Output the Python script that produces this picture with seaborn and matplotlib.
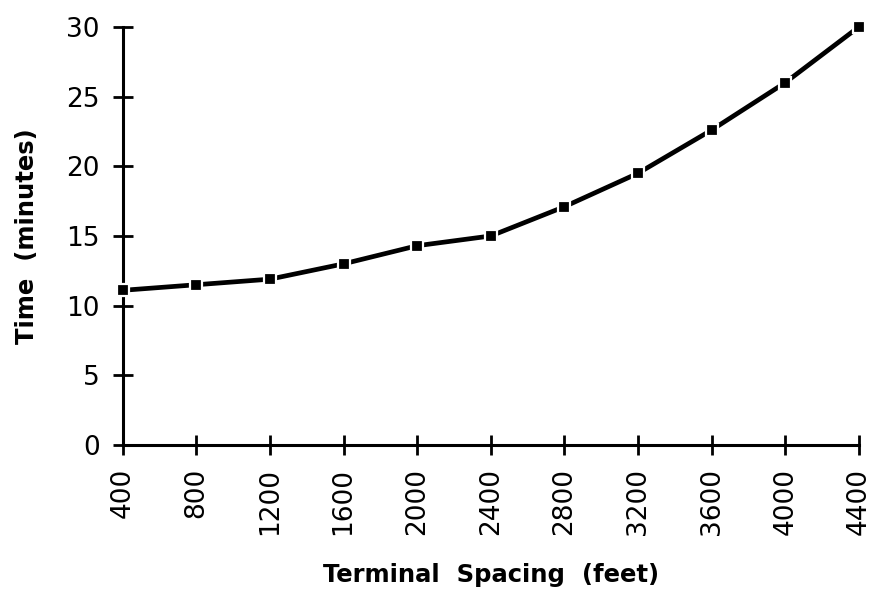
import matplotlib
matplotlib.use("Agg")
import matplotlib.pyplot as plt
import pandas as pd
import seaborn as sns

SPACING_FT = [400, 800, 1200, 1600, 2000, 2400, 2800, 3200, 3600, 4000, 4400]
TIME_MIN = [11.1, 11.5, 11.9, 13.0, 14.3, 15.0, 17.1, 19.5, 22.6, 26.0, 30.0]
Y_TICKS = [0, 5, 10, 15, 20, 25, 30]


def main() -> None:
    sns.set_theme(style="white", rc={"axes.edgecolor": "black", "text.color": "black",
                                     "axes.labelcolor": "black"})
    plt.rcParams["font.family"] = ["DejaVu Sans"]

    df = pd.DataFrame({"spacing": SPACING_FT, "time": TIME_MIN})

    fig = plt.figure(figsize=(8.71, 5.93), dpi=100)
    ax = fig.add_axes([0.141, 0.2496, 0.845, 0.705])

    sns.lineplot(
        data=df,
        x="spacing",
        y="time",
        color="black",
        linewidth=3.4,
        marker="s",
        markersize=9,
        markeredgecolor="white",
        markeredgewidth=1.6,
        ax=ax,
        clip_on=False,
        zorder=5,
    )

    ax.set_xlim(400, 4400)
    ax.set_ylim(0, 30)
    ax.set_xticks(SPACING_FT)
    ax.set_xticklabels([str(v) for v in SPACING_FT], rotation=90)
    ax.set_yticks(Y_TICKS)
    ax.set_yticklabels([str(v) for v in Y_TICKS])

    for side in ("top", "right"):
        ax.spines[side].set_visible(False)
    for side in ("left", "bottom"):
        ax.spines[side].set_linewidth(2.2)
        ax.spines[side].set_color("black")

    ax.tick_params(axis="both", direction="inout", length=15, width=2, color="black",
                   labelsize=19, labelcolor="black", bottom=True, left=True)
    ax.tick_params(axis="x", pad=9)
    ax.tick_params(axis="y", pad=9)

    label_font = {"family": ["DejaVu Sans"], "size": 17.5, "weight": "bold"}
    ax.set_xlabel("Terminal  Spacing  (feet)", fontdict=label_font, labelpad=20)
    ax.set_ylabel("Time  (minutes)", fontdict=label_font, labelpad=20)

    fig.savefig("out.png", dpi=100)
    plt.close(fig)


if __name__ == "__main__":
    main()
